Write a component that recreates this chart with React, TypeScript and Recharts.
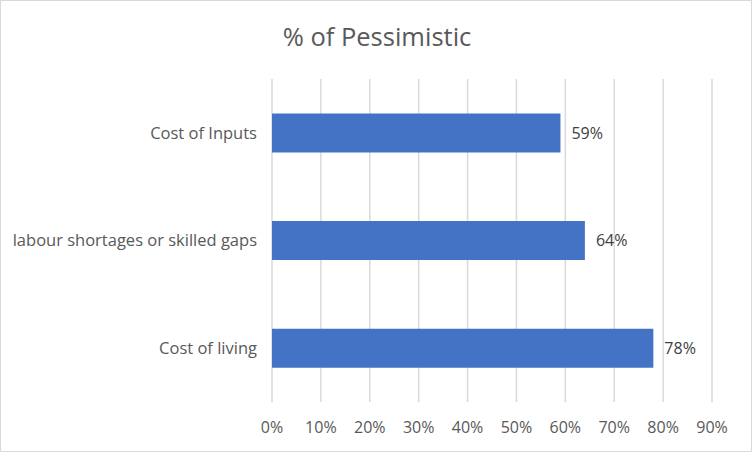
import { BarChart, Bar, XAxis, YAxis, CartesianGrid, LabelList } from 'recharts';

const categories = ['Cost of Inputs', 'labour shortages or skilled gaps', 'Cost of living'];
const pessimistic = [59, 64, 78];
const xTicks = [0, 10, 20, 30, 40, 50, 60, 70, 80, 90];

const data = categories.map((name, i) => ({ name, value: pessimistic[i] }));

const font = '"Open Sans", "Noto Sans", sans-serif';

export default function App() {
   return (
      <div style={{ position: 'absolute', left: 0, top: 0, width: 752, height: 452, background: '#fff', border: '1px solid #d9d9d9', boxSizing: 'border-box', fontFamily: font }}>
         <div style={{ position: 'absolute', left: 0, width: 752, top: 18, textAlign: 'center', fontSize: 25.5, color: '#595959' }}>
            % of Pessimistic
         </div>
         <BarChart
            width={750}
            height={450}
            data={data}
            layout="vertical"
            barCategoryGap="32%"
            margin={{ top: 78, right: 39, left: 0, bottom: 0 }}
            style={{ position: 'absolute', left: 0, top: 0 }}
         >
            <CartesianGrid horizontal={false} stroke="#d9d9d9" strokeWidth={1.5} />
            <XAxis
               type="number"
               domain={[0, 90]}
               ticks={xTicks}
               tickFormatter={(v: number) => `${v}%`}
               axisLine={false}
               tickLine={false}
               tickMargin={14}
               height={49}
               interval={0}
               tick={{ fill: '#595959', fontSize: 16, fontFamily: font }}
            />
            <YAxis
               type="category"
               dataKey="name"
               width={271}
               axisLine={false}
               tickLine={false}
               tickMargin={9}
               tick={{ fill: '#595959', fontSize: 16.5, fontFamily: font }}
            />
            <Bar dataKey="value" fill="#4472c4" isAnimationActive={false}>
               <LabelList
                  dataKey="value"
                  position="right"
                  offset={11}
                  formatter={(v: number) => `${v}%`}
                  style={{ fill: '#404040', fontSize: 16, fontFamily: font }}
               />
            </Bar>
         </BarChart>
      </div>
   );
}
